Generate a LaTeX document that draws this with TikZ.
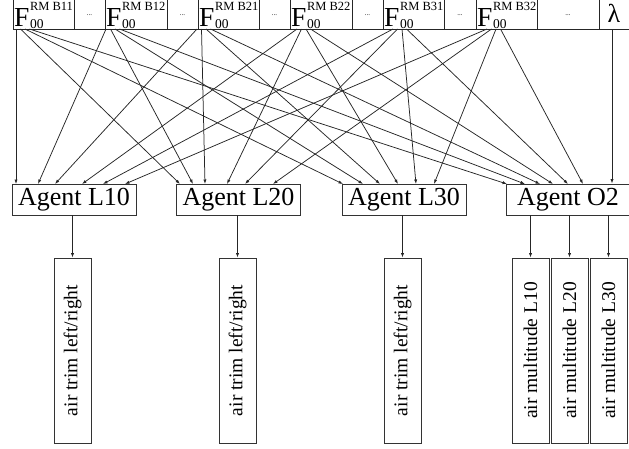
\documentclass[tikz,border=0pt]{standalone}
\usepackage{fontspec}
\setmainfont{Liberation Serif}
\usetikzlibrary{arrows.meta}
\begin{document}
\begin{tikzpicture}[x=1pt,y=-1pt,
  ln/.style={draw=black!85, line width=0.75pt},
  arr/.style={ln, -{Latex[length=4.5pt,width=3.2pt]}},
  agent/.style={draw=black!80, line width=0.8pt, minimum width=124pt, minimum height=31pt, inner sep=0pt, font=\fontsize{26}{26}\selectfont},
  outbox/.style={draw=black!80, line width=0.8pt, minimum width=185pt, minimum height=37pt, inner sep=0pt, rotate=90, font=\fontsize{19.5}{20}\selectfont},
  bigF/.style={anchor=base west, inner sep=0pt, font=\fontsize{27.5}{27.5}\selectfont},
  supr/.style={anchor=base west, inner sep=0pt, font=\fontsize{12.5}{12.5}\selectfont},
  subs/.style={anchor=base west, inner sep=0pt, font=\fontsize{13.5}{13.5}\selectfont},
  dotsty/.style={inner sep=0pt, font=\fontsize{7}{7}\selectfont},
  cellln/.style={draw=black!85, line width=0.8pt}]
\useasboundingbox (0,0) rectangle (629,448);
\clip (0,0) rectangle (629,448);

% top row of cells
\draw[cellln] (13,-3) rectangle (640,29);
\foreach \xx in {74,105,167,198,259,290,352,383,444,476,537,599}
  \draw[cellln] (\xx,-3) -- (\xx,29);

% F labels
\foreach \cx/\sup [count=\k] in {13/RM B11,105/RM B12,198/RM B21,290/RM B22,383/RM B31,476/RM B32} {
  \node[bigF] (F\k) at (\cx+1,26.5) {F};
  \node[supr] (Fs\k) at (\cx+16.8,10.2) {\sup};
  \node[subs] (Fb\k) at (\cx+16.8,28.3) {00};
}
% dots cells
\foreach \dx [count=\k] in {89.5,182.5,274.5,367.5,460,568}
  \node[dotsty] (d\k) at (\dx,15) {...};
\node[inner sep=0pt, font=\fontsize{26}{26}\selectfont] (lam) at (614,13.5) {λ};

% agents
\node[agent] (L10) at (74,199.5) {Agent L10};
\node[agent] (L20) at (238.5,199.5) {Agent L20};
\node[agent] (L30) at (404,199.5) {Agent L30};
\node[agent] (O2) at (568,199.5) {Agent O2};

% connections from F cells to agents
\foreach \ag/\j/\xs in {L10/0/{16,38,55,82,103,125},L20/1/{180,193,205,227,245,273},L30/2/{343,363,380,398,416,434},O2/3/{507,525,540,553,568,583}} {
  \foreach \t [count=\i] in \xs {
    \pgfmathsetmacro\sx{{16,106,197,297,393,487}[\i-1]+4.5*\j}
    \coordinate (s\i\ag) at (\sx,29);
    \coordinate (t\i\ag) at (\t,184);
    \draw[arr] (s\i\ag) -- (t\i\ag);
  }
}
\coordinate (lams) at (612,29);
\draw[arr] (lams) -- (lams |- O2.north);

% outputs
\node[outbox] (o1) at (72.5,350.5) {air trim left/right};
\node[outbox] (o2) at (237.5,350.5) {air trim left/right};
\node[outbox] (o3) at (402.5,350.5) {air trim left/right};
\node[outbox] (m1) at (530.5,350.5) {air multitude L10};
\node[outbox] (m2) at (569.5,350.5) {air multitude L20};
\node[outbox] (m3) at (608.5,350.5) {air multitude L30};

\draw[arr] (L10.south -| o1.east) -- (o1.east);
\draw[arr] (L20.south -| o2.east) -- (o2.east);
\draw[arr] (L30.south -| o3.east) -- (o3.east);
\draw[arr] (O2.south -| m1.east) -- (m1.east);
\draw[arr] (O2.south -| m2.east) -- (m2.east);
\draw[arr] (O2.south -| m3.east) -- (m3.east);
\end{tikzpicture}
\end{document}
